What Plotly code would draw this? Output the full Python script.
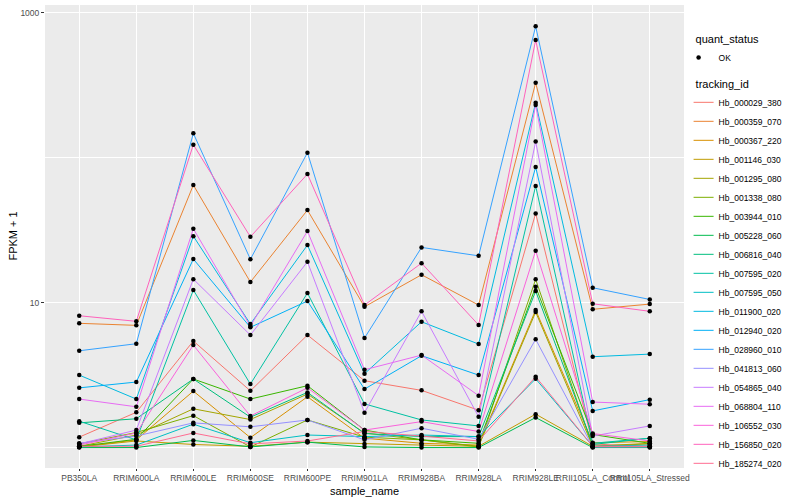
import plotly.graph_objects as go

samples = ["PB350LA", "RRIM600LA", "RRIM600LE", "RRIM600SE", "RRIM600PE", "RRIM901LA",
           "RRIM928BA", "RRIM928LA", "RRIM928LE", "RRII105LA_Control", "RRII105LA_Stressed"]

tracking_ids = ["Hb_000029_380", "Hb_000359_070", "Hb_000367_220", "Hb_001146_030", "Hb_001295_080",
                "Hb_001338_080", "Hb_003944_010", "Hb_005228_060", "Hb_006816_040", "Hb_007595_020",
                "Hb_007595_050", "Hb_011900_020", "Hb_012940_020", "Hb_028960_010", "Hb_041813_060",
                "Hb_054865_040", "Hb_068804_110", "Hb_106552_030", "Hb_156850_020", "Hb_185274_020"]

colors = ["#F8766D", "#EA8331", "#D89000", "#C09B00", "#A3A500", "#7CAE00", "#39B600", "#00BB4E",
          "#00BF7D", "#00C1A3", "#00BFC4", "#00BAE0", "#00B0F6", "#35A2FF", "#9590FF", "#C77CFF",
          "#E76BF3", "#FA62DB", "#FF62BC", "#FF6C91"]

# FPKM + 1 per tracking_id, in sample order
Hb_000029_380 = [1.18, 1.75, 5.43, 2.46, 5.97, 2.89, 2.48, 1.81, 41.2, 1.06, 1.01]
Hb_000359_070 = [7.19, 6.96, 64.6, 13.85, 43.4, 9.35, 15.55, 9.61, 328, 8.98, 9.76]
Hb_000367_220 = [1.01, 1.13, 2.45, 1.17, 2.24, 1.16, 1.07, 1.04, 8.88, 1.08, 1.10]
Hb_001146_030 = [1.01, 1.11, 1.05, 1.02, 1.09, 1.06, 1.04, 1.02, 1.70, 1.02, 1.07]
Hb_001295_080 = [1.02, 1.22, 1.85, 1.56, 2.34, 1.26, 1.13, 1.02, 8.6, 1.02, 1.06]
Hb_001338_080 = [1.06, 1.27, 1.66, 1.01, 1.55, 1.18, 1.13, 1.01, 14.45, 1.01, 1.02]
Hb_003944_010 = [1.02, 1.14, 2.97, 2.16, 2.67, 1.32, 1.13, 1.07, 12.85, 1.23, 1.07]
Hb_005228_060 = [1.00, 1.00, 1.12, 1.01, 1.09, 1.01, 1.00, 1.00, 1.61, 1.00, 1.00]
Hb_006816_040 = [1.48, 1.58, 2.97, 1.62, 2.40, 1.25, 1.19, 1.19, 12.0, 1.05, 1.16]
Hb_007595_020 = [1.52, 1.13, 12.2, 2.74, 11.63, 2.00, 1.55, 1.41, 63.6, 1.07, 1.16]
Hb_007595_050 = [1.01, 1.04, 1.45, 1.08, 1.22, 1.19, 1.22, 1.19, 2.98, 1.02, 1.04]
Hb_011900_020 = [3.16, 2.16, 28.7, 7.11, 24.9, 3.23, 7.37, 5.17, 239, 4.23, 4.41]
Hb_012940_020 = [2.58, 2.83, 19.95, 6.75, 10.24, 2.53, 4.30, 3.16, 86.0, 1.79, 2.14]
Hb_028960_010 = [4.65, 5.2, 146.9, 19.9, 108, 5.69, 24.0, 21.0, 803, 12.65, 10.5]
Hb_041813_060 = [1.07, 1.20, 1.48, 1.39, 1.55, 1.13, 1.36, 1.14, 5.58, 1.01, 1.01]
Hb_054865_040 = [1.06, 1.32, 14.5, 5.97, 19.1, 1.74, 8.7, 1.63, 129, 1.20, 1.41]
Hb_068804_110 = [2.16, 1.91, 32.3, 6.88, 31.1, 3.44, 4.34, 2.28, 230, 2.06, 1.99]
Hb_106552_030 = [1.04, 1.26, 5.09, 1.65, 2.58, 1.32, 1.51, 1.29, 22.8, 1.25, 1.11]
Hb_156850_020 = [8.11, 7.42, 122.6, 28.4, 76.9, 9.61, 18.7, 7.0, 646, 9.81, 8.7]
Hb_185274_020 = [1.02, 1.02, 1.26, 1.06, 1.11, 1.29, 1.20, 1.11, 3.08, 1.02, 1.02]

series = [Hb_000029_380, Hb_000359_070, Hb_000367_220, Hb_001146_030, Hb_001295_080,
          Hb_001338_080, Hb_003944_010, Hb_005228_060, Hb_006816_040, Hb_007595_020,
          Hb_007595_050, Hb_011900_020, Hb_012940_020, Hb_028960_010, Hb_041813_060,
          Hb_054865_040, Hb_068804_110, Hb_106552_030, Hb_156850_020, Hb_185274_020]

font = "Liberation Sans, Arial, sans-serif"
fig = go.Figure()

for name, vals, col in zip(tracking_ids, series, colors):
    fig.add_trace(go.Scatter(x=samples, y=vals, mode="lines", name=name,
                             line=dict(color=col, width=1), legend="legend2", showlegend=True))

all_x, all_y = [], []
for vals in series:
    all_x += samples
    all_y += vals
fig.add_trace(go.Scatter(x=all_x, y=all_y, mode="markers", name="OK", showlegend=True,
                         marker=dict(color="black", size=4.5), legend="legend"))

fig.update_layout(
    width=800, height=500,
    showlegend=True,
    margin=dict(l=45, r=116, t=5, b=32, autoexpand=False),
    paper_bgcolor="white", plot_bgcolor="#EBEBEB",
    font=dict(family=font, color="black"),
    xaxis=dict(type="category", range=[-0.6, 10.6], showgrid=True, gridcolor="white", gridwidth=1.1,
               tickfont=dict(size=8.5, color="#4D4D4D"), tickangle=0, ticks="outside", ticklen=2,
               tickcolor="#333333", zeroline=False, showline=False, automargin=False),
    yaxis=dict(type="log", range=[-0.141, 3.052], tickvals=[10, 1000], ticktext=["10", "1000"],
               showgrid=True, gridcolor="white", gridwidth=1.1, zeroline=False, showline=False,
               tickfont=dict(size=8.5, color="#4D4D4D"), ticks="outside", ticklen=3, tickcolor="#333333",
               minor=dict(tickvals=[1, 100], showgrid=True, gridcolor="white", gridwidth=0.55, ticks=""),
               automargin=False),
    legend=dict(title=dict(text="quant_status", font=dict(size=11)), x=1.015, y=0.949,
                xanchor="left", yanchor="top", font=dict(size=8.5), bgcolor="rgba(0,0,0,0)",
                itemwidth=30, tracegroupgap=0, indentation=-15),
    legend2=dict(title=dict(text="tracking_id", font=dict(size=11)), x=1.015, y=0.852,
                 xanchor="left", yanchor="top", font=dict(size=8.5), bgcolor="rgba(0,0,0,0)",
                 itemwidth=30, tracegroupgap=0, indentation=-15),
    annotations=[
        dict(text="sample_name", xref="paper", yref="paper", x=0.5, y=-0.032,
             xanchor="center", yanchor="top", showarrow=False, font=dict(size=11)),
        dict(text="FPKM + 1", xref="paper", yref="paper", x=-0.0516, y=0.5, textangle=-90,
             xanchor="center", yanchor="middle", showarrow=False, font=dict(size=11)),
    ],
)

fig.write_html("out.html", config={"displayModeBar": False},
               post_script="document.body.style.margin='0px';")
